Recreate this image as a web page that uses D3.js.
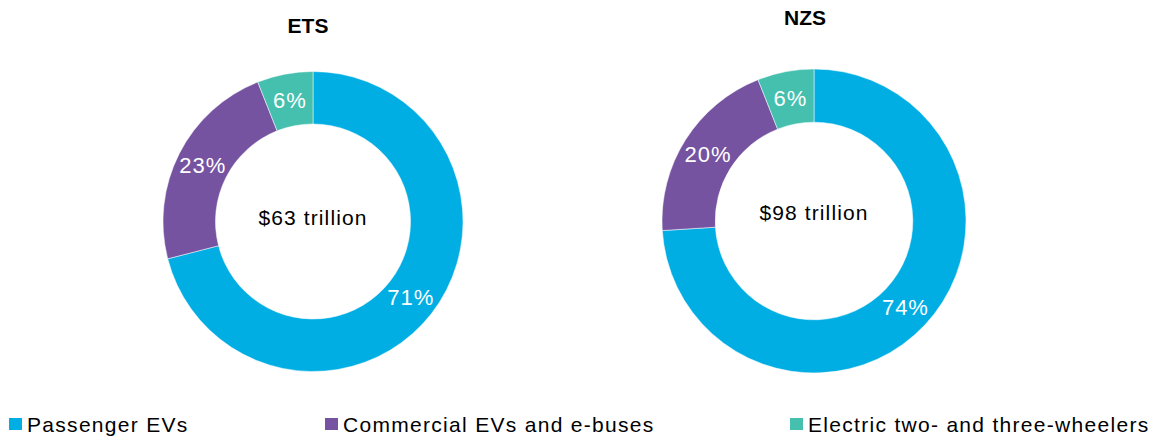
<!DOCTYPE html>
<meta charset="utf-8">
<style>
body { margin: 0; background: #fff; }
svg text { font-family: "Liberation Sans", Arial, sans-serif; }
</style>
<script src="https://cdn.jsdelivr.net/npm/d3@7"></script>
<body>
<script>
// data
var categories = ["Passenger EVs", "Commercial EVs and e-buses", "Electric two- and three-wheelers"];
var scenarios = ["ETS", "NZS"];
var etsShares = [71, 23, 6];
var nzsShares = [74, 20, 6];
var totals = ["$63 trillion", "$98 trillion"];
var colors = ["#00aee3", "#7653a1", "#45bfae"];

var width = 1153, height = 438;

var svg = d3.select("body").append("svg")
  .attr("width", width)
  .attr("height", height);

var color = d3.scaleOrdinal().domain(categories).range(colors);

// one donut per scenario
var donuts = [
  { name: scenarios[0], shares: etsShares, total: totals[0], cx: 313, cy: 221.5, r: 150, titleX: 308, titleY: 33, totalY: 225 },
  { name: scenarios[1], shares: nzsShares, total: totals[1], cx: 814, cy: 221, r: 152, titleX: 805, titleY: 25, totalY: 220 }
];

var pie = d3.pie().sort(null).value(function(d) { return d.value; });

donuts.forEach(function(c) {
  var rows = categories.map(function(k, i) { return { key: k, value: c.shares[i] }; });
  var arc = d3.arc().innerRadius(c.r * 0.65).outerRadius(c.r);
  var g = svg.append("g").attr("transform", "translate(" + c.cx + "," + c.cy + ")");

  g.selectAll("path")
    .data(pie(rows))
    .enter()
    .append("path")
    .attr("d", arc)
    .attr("fill", function(d) { return color(d.data.key); })
    .attr("stroke", "#fff")
    .attr("stroke-width", 0.5);

  g.selectAll("text.pct")
    .data(pie(rows))
    .enter()
    .append("text")
    .attr("class", "pct")
    .attr("transform", function(d) { return "translate(" + arc.centroid(d) + ")"; })
    .attr("text-anchor", "middle")
    .attr("dy", "0.36em")
    .attr("font-size", "22px")
    .attr("letter-spacing", "1px")
    .attr("fill", "#fff")
    .text(function(d) { return d.data.value + "%"; });

  g.append("text")
    .attr("x", 0)
    .attr("y", c.totalY - c.cy)
    .attr("text-anchor", "middle")
    .attr("font-size", "21px")
    .attr("letter-spacing", "1.1px")
    .attr("fill", "#000")
    .text(c.total);

  svg.append("text")
    .attr("x", c.titleX)
    .attr("y", c.titleY)
    .attr("text-anchor", "middle")
    .attr("font-size", "21px")
    .attr("font-weight", "bold")
    .attr("fill", "#000")
    .text(c.name);
});

// legend
var legendX = [9, 325, 790];
var legend = svg.selectAll("g.legend")
  .data(categories)
  .enter()
  .append("g")
  .attr("class", "legend")
  .attr("transform", function(d, i) { return "translate(" + legendX[i] + ",418)"; });

legend.append("rect")
  .attr("width", 13)
  .attr("height", 12)
  .attr("fill", function(d) { return color(d); });

legend.append("text")
  .attr("x", 18)
  .attr("y", 14)
  .attr("font-size", "21px")
  .attr("letter-spacing", "1.3px")
  .attr("fill", "#000")
  .text(function(d) { return d; });
</script>
</body>
